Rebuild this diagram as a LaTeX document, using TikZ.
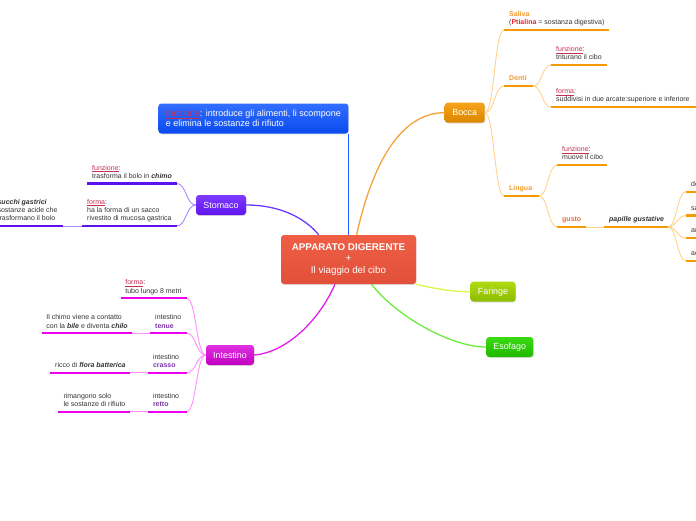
\documentclass[tikz,border=0pt]{standalone}
\usepackage{fontspec}
\setmainfont{Liberation Sans}
\usetikzlibrary{calc,shadows}
\definecolor{txt}{HTML}{333333}
\definecolor{fnred}{HTML}{C43050}
\definecolor{orgtxt}{HTML}{F39A2E}
\definecolor{gustotxt}{HTML}{F26B38}
\definecolor{ptred}{HTML}{E8262E}
\definecolor{purtxt}{HTML}{7B35A5}
\definecolor{lnblue}{HTML}{1F5FFF}
\definecolor{lnorange}{HTML}{F4A23A}
\definecolor{lnpurple}{HTML}{6D3BFF}
\definecolor{lnmag}{HTML}{E020E8}
\definecolor{lnlime}{HTML}{DDF545}
\definecolor{lngreen}{HTML}{6CEB3A}
\definecolor{barOr}{HTML}{F59A00}
\definecolor{barPu}{HTML}{5C12EE}
\definecolor{barMa}{HTML}{EE00EE}
\definecolor{thOr}{HTML}{FFD28E}
\definecolor{thPu}{HTML}{A888FF}
\definecolor{thMa}{HTML}{FF90FF}
\definecolor{rootT}{HTML}{EE5E44}
\definecolor{rootB}{HTML}{E2503A}
\definecolor{blueT}{HTML}{326EFF}
\definecolor{blueB}{HTML}{0A4AF0}
\definecolor{orT}{HTML}{F7A21B}
\definecolor{orB}{HTML}{DB8600}
\definecolor{puT}{HTML}{7E3BFF}
\definecolor{puB}{HTML}{5F14F0}
\definecolor{maT}{HTML}{E030E0}
\definecolor{maB}{HTML}{C000C0}
\definecolor{liT}{HTML}{B0DA10}
\definecolor{liB}{HTML}{8CBC00}
\definecolor{grT}{HTML}{3ADB10}
\definecolor{grB}{HTML}{1FB800}
\newcommand\leaffont{\fontsize{7}{8.3}\selectfont}
\newcommand\fz[1]{\textcolor{fnred}{\underline{#1}}}
\begin{document}
\begin{tikzpicture}[x=1pt,y=-1pt,
  leaf/.style={font=\leaffont, text=txt, inner sep=0pt, align=left, anchor=south west, execute at end node=\strut},
  mm/.style={rounded corners=3pt, text=white, inner sep=0pt, font=\fontsize{8.9}{10}\selectfont,
    drop shadow={opacity=0.25, shadow xshift=0.6pt, shadow yshift=-0.9pt}},
  bOr/.style={draw=barOr, line width=2.2pt},
  bPu/.style={draw=barPu, line width=2.2pt},
  bMa/.style={draw=barMa, line width=2.2pt},
  tOr/.style={draw=thOr, line width=0.9pt},
  tPu/.style={draw=thPu, line width=0.9pt},
  tMa/.style={draw=thMa, line width=0.9pt}]
\useasboundingbox (0,0) rectangle (696,520);
\clip (0,0) rectangle (696,520);

% ---------- main nodes ----------
\node[mm, minimum width=135pt, minimum height=49pt, top color=rootT, bottom color=rootB, align=center,
  font=\fontsize{9.8}{11.3}\selectfont] (root) at (348.5,259.5)
  {\textbf{APPARATO DIGERENTE}\\+\\Il viaggio del cibo};
\node[mm, minimum width=190pt, minimum height=30pt, align=left,
  top color=blueT, bottom color=blueB, font=\fontsize{9}{10}\selectfont] (fnode) at (253.4,118.5)
  {\fz{funzione}: introduce gli alimenti, li scompone\\e elimina le sostanze di rifiuto};
\node[mm, minimum width=40pt, minimum height=20pt, top color=orT, bottom color=orB] (bocca) at (464.7,112.7) {Bocca};
\node[mm, minimum width=50pt, minimum height=20pt, top color=puT, bottom color=puB] (stom) at (221,205) {Stomaco};
\node[mm, minimum width=48pt, minimum height=20pt, top color=maT, bottom color=maB] (intest) at (230,355) {Intestino};
\node[mm, minimum width=45pt, minimum height=20pt, top color=liT, bottom color=liB] (faringe) at (493,291.7) {Faringe};
\node[mm, minimum width=47pt, minimum height=20pt, top color=grT, bottom color=grB] (esof) at (509.7,347) {Esofago};

% ---------- main connectors ----------
\draw[lnblue, line width=1.3pt] (root.north) -- (root.north |- fnode.south);
\coordinate (rootOr) at ($(root.north west)!0.56!(root.north east)$);
\draw[lnorange, line width=1.3pt] (rootOr) .. controls (372,165) and (400,112.7) .. (bocca.west);
\coordinate (rootPu) at ($(root.north west)!0.28!(root.north east)$);
\draw[lnpurple, line width=1.3pt] (stom.east) .. controls (280,205) and (305,218) .. (rootPu);
\coordinate (rootMa) at ($(root.south west)!0.4!(root.south east)$);
\draw[lnmag, line width=1.3pt] (intest.east) .. controls (290,352) and (322,315) .. (rootMa);
\draw[lnlime, line width=1.3pt] (root.south east) .. controls (440,290) and (455,291.7) .. (faringe.west);
\coordinate (rootGr) at ($(root.south west)!0.67!(root.south east)$);
\draw[lngreen, line width=1.3pt] (rootGr) .. controls (395,315) and (450,347) .. (esof.west);

% ---------- Bocca branch ----------
\coordinate (salA) at (504,30);    \coordinate (salB) at (609,30);
\coordinate (denA) at (504,86);    \coordinate (denB) at (533,86);
\coordinate (linA) at (504,196);   \coordinate (linB) at (539,196);
\coordinate (dfuA) at (551,65);    \coordinate (dfuB) at (607,65);
\coordinate (dfoA) at (551,107);   \coordinate (dfoB) at (700,107);
\coordinate (lfuA) at (557,165);   \coordinate (lfuB) at (607,165);
\coordinate (gusA) at (557,227);   \coordinate (gusB) at (586,227);
\coordinate (papA) at (604,227);   \coordinate (papB) at (668,227);
\coordinate (g1A) at (686,191.7);  \coordinate (g1B) at (700,191.7);
\coordinate (g2A) at (686,215.5);  \coordinate (g2B) at (700,215.5);
\coordinate (g3A) at (686,238);    \coordinate (g3B) at (700,238);
\coordinate (g4A) at (686,260.7);  \coordinate (g4B) at (700,260.7);

\foreach \c in {salA,denA,linA}
  \draw[tOr] (bocca.east) .. controls +(9.5,0) and +(-9.5,0) .. (\c);
\foreach \c in {dfuA,dfoA}
  \draw[tOr] (denB) .. controls +(9,0) and +(-9,0) .. (\c);
\foreach \c in {lfuA,gusA}
  \draw[tOr] (linB) .. controls +(9,0) and +(-9,0) .. (\c);
\draw[tOr] (gusB) -- (papA);
\foreach \c in {g1A,g2A,g3A,g4A}
  \draw[tOr] (papB) .. controls +(9,0) and +(-9,0) .. (\c);

\foreach \a/\b in {salA/salB,denA/denB,linA/linB,dfuA/dfuB,dfoA/dfoB,lfuA/lfuB,gusA/gusB,papA/papB,g1A/g1B,g2A/g2B,g3A/g3B,g4A/g4B}
  \draw[bOr] (\a) -- (\b);

\node[leaf] (sal) at ($(salA)+(5,-2.5)$) {\textcolor{orgtxt}{\textbf{Saliva}}\\(\textcolor{ptred}{\textbf{Ptialina}} = sostanza digestiva)};
\node[leaf] (denti) at ($(denA)+(5,-2.5)$) {\textcolor{orgtxt}{\textbf{Denti}}};
\node[leaf] (lingua) at ($(linA)+(5,-2.5)$) {\textcolor{orgtxt}{\textbf{Lingua}}};
\node[leaf] (dfun) at ($(dfuA)+(5,-2.5)$) {\fz{funzione}:\\triturano il cibo};
\node[leaf] (dfor) at ($(dfoA)+(5,-2.5)$) {\fz{forma}:\\suddivisi in due arcate:superiore e inferiore};
\node[leaf] (lfun) at ($(lfuA)+(5,-2.5)$) {\fz{funzione}:\\muove il cibo};
\node[leaf] (gusto) at ($(gusA)+(5,-2.5)$) {\textcolor{gustotxt}{\textbf{gusto}}};
\node[leaf] (pap) at ($(papA)+(5,-2.5)$) {\textbf{\textit{papille gustative}}};
\node[leaf] (g1) at ($(g1A)+(5,-2.5)$) {dolce};
\node[leaf] (g2) at ($(g2A)+(5,-2.5)$) {salato};
\node[leaf] (g3) at ($(g3A)+(5,-2.5)$) {amaro};
\node[leaf] (g4) at ($(g4A)+(5,-2.5)$) {acido};

% ---------- Stomaco branch ----------
\coordinate (sfuA) at (87,183.5);   \coordinate (sfuB) at (176.7,183.5);
\coordinate (sfoA) at (82,226);     \coordinate (sfoB) at (176.7,226);
\coordinate (sucA) at (-7.6,226);   \coordinate (sucB) at (63.3,226);
\foreach \c in {sfuB,sfoB}
  \draw[tPu] (stom.west) .. controls +(-9.7,0) and +(9.7,0) .. (\c);
\draw[tPu] (sucB) -- (sfoA);
\foreach \a/\b in {sfuA/sfuB,sfoA/sfoB,sucA/sucB}
  \draw[bPu] (\a) -- (\b);
\node[leaf] (sfun) at ($(sfuA)+(5,-2.5)$) {\fz{funzione}:\\trasforma il bolo in \textbf{\textit{chimo}}};
\node[leaf] (sfor) at ($(sfoA)+(5,-2.5)$) {\fz{forma}:\\ha la forma di un sacco\\rivestito di mucosa gastrica};
\node[leaf] (succ) at ($(sucA)+(5,-2.5)$) {\textbf{\textit{succhi gastrici}}\\sostanze acide che\\trasformano il bolo};

% ---------- Intestino branch ----------
\coordinate (ifoA) at (120.7,298.3);  \coordinate (ifoB) at (186.7,298.3);
\coordinate (tenA) at (150,333.3);    \coordinate (tenB) at (186.7,333.3);
\coordinate (craA) at (148.3,372.7);  \coordinate (craB) at (186.7,372.7);
\coordinate (retA) at (148.3,411.7);  \coordinate (retB) at (186.7,411.7);
\coordinate (tlA) at (41.7,333.3);    \coordinate (tlB) at (131.7,333.3);
\coordinate (clA) at (50,372.7);      \coordinate (clB) at (130,372.7);
\coordinate (rlA) at (58.3,411.7);    \coordinate (rlB) at (130,411.7);
\foreach \c in {ifoB,tenB,craB,retB}
  \draw[tMa] (intest.west) .. controls +(-9.7,0) and +(9.7,0) .. (\c);
\draw[tMa] (tlB) -- (tenA);
\draw[tMa] (clB) -- (craA);
\draw[tMa] (rlB) -- (retA);
\foreach \a/\b in {ifoA/ifoB,tenA/tenB,craA/craB,retA/retB,tlA/tlB,clA/clB,rlA/rlB}
  \draw[bMa] (\a) -- (\b);
\node[leaf] (ifor) at ($(ifoA)+(4.5,-2.5)$) {\fz{forma}:\\tubo lungo 8 metri};
\node[leaf] (ten) at ($(tenA)+(5,-2.5)$) {intestino\\\textcolor{purtxt}{\textbf{tenue}}};
\node[leaf] (cra) at ($(craA)+(4.5,-2.5)$) {intestino\\\textcolor{purtxt}{\textbf{crasso}}};
\node[leaf] (ret) at ($(retA)+(4.5,-2.5)$) {intestino\\\textcolor{purtxt}{\textbf{retto}}};
\node[leaf] (tenL) at ($(tlA)+(4.5,-2.5)$) {Il chimo viene a contatto\\con la \textbf{\textit{bile}} e diventa \textbf{\textit{chilo}}};
\node[leaf] (craL) at ($(clA)+(5,-2.5)$) {ricco di \textbf{\textit{flora batterica}}};
\node[leaf] (retL) at ($(rlA)+(5,-2.5)$) {rimangono solo\\le sostanze di rifiuto};
\end{tikzpicture}
\end{document}
